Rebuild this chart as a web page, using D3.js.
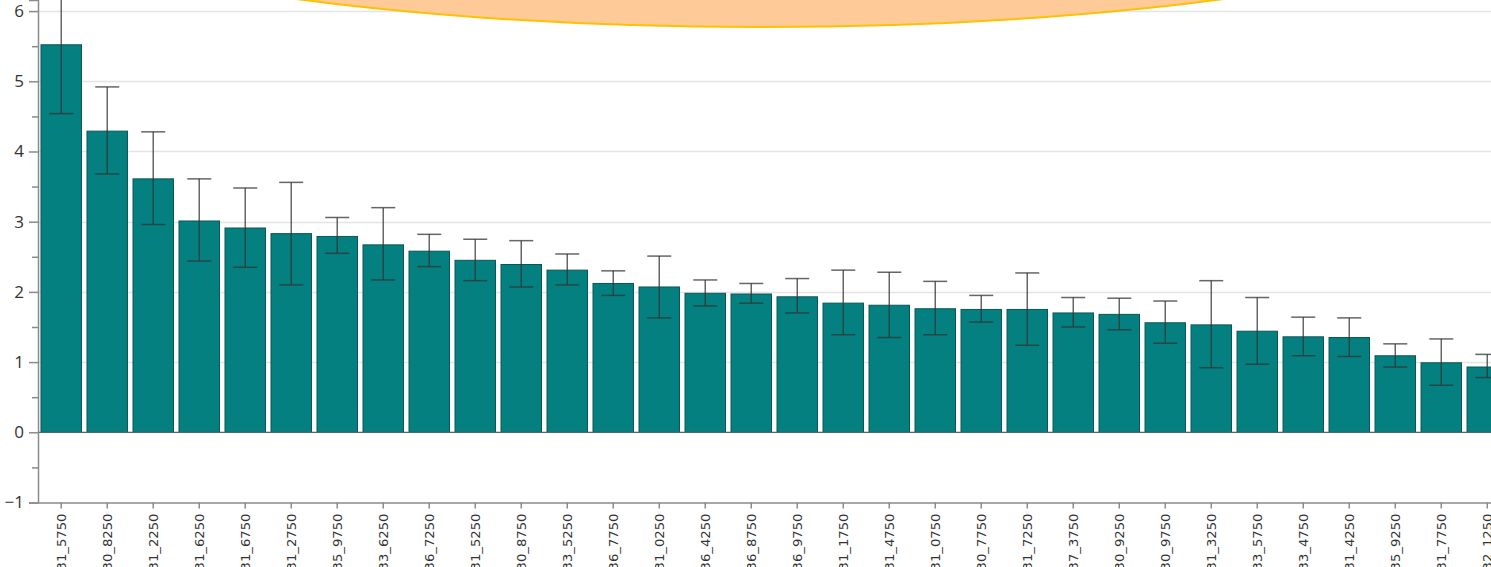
<!DOCTYPE html>
<html>
<head>
<meta charset="utf-8">
<script src="https://cdn.jsdelivr.net/npm/d3@7"></script>
<style>
  html, body { margin: 0; padding: 0; background: #fff; overflow: hidden; }
  svg { display: block; }
</style>
</head>
<body>
<div id="chart"></div>
<script>
// category labels (only the visible tail of each label is shown in the source)
const labels = ['31_5750', '30_8250', '31_2250', '31_6250', '31_6750', '31_2750', '35_9750', '33_6250',
    '36_7250', '31_5250', '30_8750', '33_5250', '36_7750', '31_0250', '36_4250', '36_8750',
    '36_9750', '31_1750', '31_4750', '31_0750', '30_7750', '31_7250', '37_3750', '30_9250',
    '30_9750', '31_3250', '33_5750', '33_4750', '31_4250', '35_9250', '31_7750', '32_1250']

const means = [5.52, 4.29, 3.61, 3.01, 2.91, 2.83, 2.79, 2.67,
    2.58, 2.45, 2.39, 2.31, 2.12, 2.07, 1.98, 1.97,
    1.93, 1.84, 1.81, 1.76, 1.75, 1.75, 1.70, 1.68,
    1.56, 1.53, 1.44, 1.36, 1.35, 1.09, 0.99, 0.93]

const errLow = [4.54, 3.68, 2.96, 2.44, 2.35, 2.10, 2.55, 2.17,
    2.36, 2.16, 2.07, 2.10, 1.95, 1.63, 1.80, 1.84,
    1.70, 1.39, 1.35, 1.39, 1.57, 1.24, 1.50, 1.46,
    1.27, 0.92, 0.97, 1.09, 1.08, 0.93, 0.67, 0.78]

const errHigh = [6.49, 4.92, 4.28, 3.61, 3.48, 3.56, 3.06, 3.20,
    2.82, 2.75, 2.73, 2.54, 2.30, 2.51, 2.17, 2.12,
    2.19, 2.31, 2.28, 2.15, 1.95, 2.27, 1.92, 1.91,
    1.87, 2.16, 1.92, 1.64, 1.63, 1.26, 1.33, 1.11]

const yMajorTicks = [-1, 0, 1, 2, 3, 4, 5, 6]
const yMinorTicks = [-0.5, 0.5, 1.5, 2.5, 3.5, 4.5, 5.5]

const width = 1491
const height = 567

const data = labels.map((d, i) => ({label: d, mean: means[i], lo: errLow[i], hi: errHigh[i]}))

const svg = d3.select('#chart')
    .append('svg')
    .attr('width', width)
    .attr('height', height)

// plot runs off the right and top edges of the window, like the source
const x = d3.scaleBand()
    .domain(labels)
    .range([38, 1510.5])
    .paddingInner(0.12)
    .paddingOuter(0.065)

const y = d3.scaleLinear()
    .domain([-1, 6.158])
    .range([502.5, 0])

// gridlines
svg.append('g')
    .selectAll('line')
    .data(yMajorTicks.filter(d => d > -1))
    .join('line')
    .attr('x1', 38)
    .attr('x2', width)
    .attr('y1', d => Math.round(y(d)) + 0.5)
    .attr('y2', d => Math.round(y(d)) + 0.5)
    .attr('stroke', '#e4e4e4')
    .attr('stroke-width', 1.5)

// bars
svg.append('g')
    .selectAll('rect')
    .data(data)
    .join('rect')
    .attr('x', d => x(d.label))
    .attr('width', x.bandwidth())
    .attr('y', d => y(d.mean))
    .attr('height', d => y(0) - y(d.mean))
    .attr('fill', '#058080')
    .attr('stroke', '#0a5656')
    .attr('stroke-width', 1)

// zero line
svg.append('line')
    .attr('x1', 38)
    .attr('x2', width)
    .attr('y1', y(0))
    .attr('y2', y(0))
    .attr('stroke', '#4d6b6b')
    .attr('stroke-width', 1.2)

// error bars
const capW = 24
const err = svg.append('g')
    .attr('stroke', '#333')
    .attr('stroke-opacity', 0.75)
    .attr('stroke-width', 1.5)
    .selectAll('g')
    .data(data)
    .join('g')
    .attr('transform', d => `translate(${x(d.label) + x.bandwidth() / 2},0)`)

err.append('line')
    .attr('y1', d => y(d.lo))
    .attr('y2', d => y(d.hi))
err.append('line')
    .attr('x1', -capW / 2).attr('x2', capW / 2)
    .attr('y1', d => y(d.lo)).attr('y2', d => y(d.lo))
err.append('line')
    .attr('x1', -capW / 2).attr('x2', capW / 2)
    .attr('y1', d => y(d.hi)).attr('y2', d => y(d.hi))

// y axis
const yAxis = svg.append('g')
    .attr('transform', 'translate(38,0)')
    .call(d3.axisLeft(y).tickValues(yMajorTicks).tickSize(9).tickPadding(5).tickFormat(d3.format('d')))
yAxis.select('.domain').attr('stroke', '#8a8a8a').attr('stroke-width', 1.5)
yAxis.selectAll('.tick line').attr('stroke', '#8a8a8a').attr('stroke-width', 1.5)
yAxis.selectAll('.tick text')
    .attr('font-family', '"Open Sans", sans-serif')
    .attr('font-size', 17)
    .attr('fill', '#333')

const yMinor = svg.append('g')
    .attr('transform', 'translate(38,0)')
    .call(d3.axisLeft(y).tickValues(yMinorTicks).tickSize(6).tickFormat(''))
yMinor.select('.domain').remove()
yMinor.selectAll('.tick line').attr('stroke', '#8a8a8a').attr('stroke-width', 1.5)

// x axis
const xAxis = svg.append('g')
    .attr('transform', `translate(0,${y(-1)})`)
    .call(d3.axisBottom(x).tickSize(6).tickSizeOuter(0))
xAxis.select('.domain').attr('stroke', '#8a8a8a').attr('stroke-width', 1.5)
xAxis.selectAll('.tick line').attr('stroke', '#8a8a8a').attr('stroke-width', 1.5)
xAxis.selectAll('.tick text')
    .attr('font-family', '"DejaVu Sans", sans-serif')
    .attr('font-size', 15)
    .attr('fill', '#333')
    .attr('text-anchor', 'end')
    .attr('x', 0)
    .attr('y', 0)
    .attr('dy', '0.35em')
    .attr('transform', 'translate(0,11) rotate(-90) scale(0.88,0.85)')

// orange callout shape at the top
svg.append('ellipse')
    .attr('cx', 760)
    .attr('cy', -133)
    .attr('rx', 820)
    .attr('ry', 160)
    .attr('fill', '#fecb98')
    .attr('stroke', '#ffc000')
    .attr('stroke-width', 2)
</script>
</body>
</html>
